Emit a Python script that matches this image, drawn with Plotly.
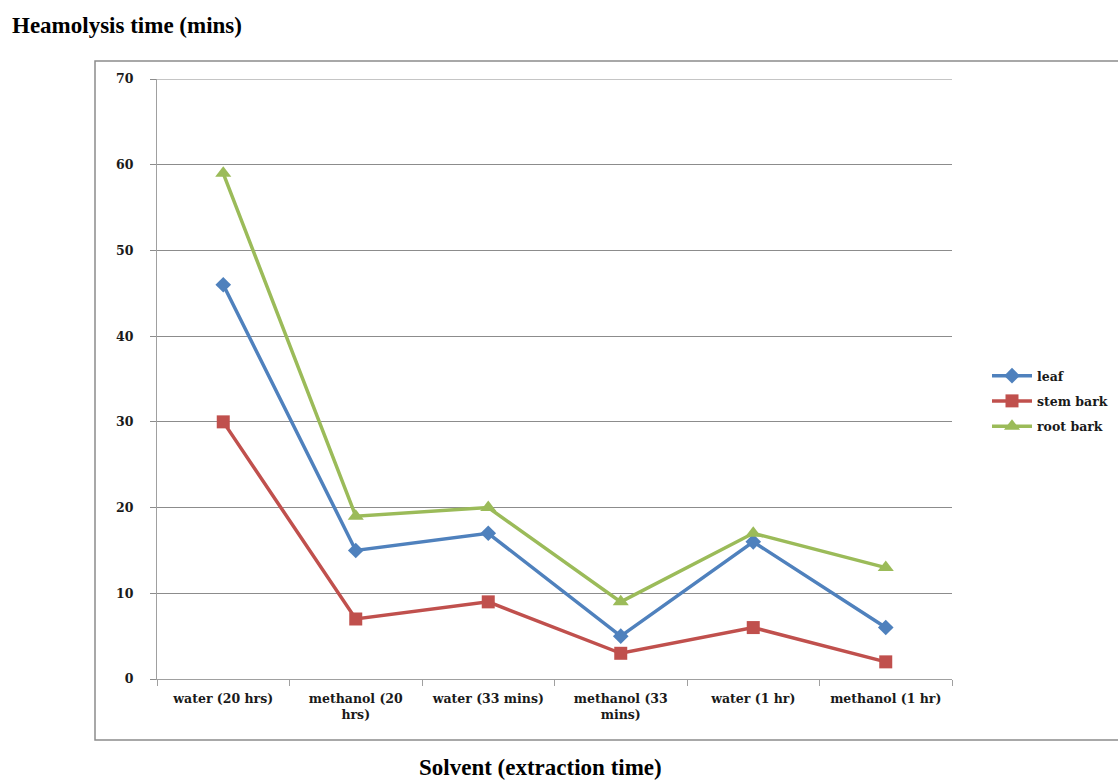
import plotly.graph_objects as go

categories = ["water (20 hrs)", "methanol (20<br>hrs)", "water (33 mins)",
              "methanol (33<br>mins)", "water (1 hr)", "methanol (1 hr)"]
leaf = [46, 15, 17, 5, 16, 6]
stem_bark = [30, 7, 9, 3, 6, 2]
root_bark = [59, 19, 20, 9, 17, 13]
y_ticks = [0, 10, 20, 30, 40, 50, 60, 70]

W, H = 1118, 781
L, R, T, B = 157, 952, 79, 679
pw, ph = R - L, B - T

def px(x):
    return (x - L) / pw

def py(y):
    return (B - y) / ph

font_tick = dict(family="DejaVu Serif", size=12.5, color="#1a1a1a", weight="bold")

fig = go.Figure()
series = [
    ("leaf", leaf, "#4F81BD", "diamond", 12),
    ("stem bark", stem_bark, "#C0504D", "square", 13),
    ("root bark", root_bark, "#9BBB59", "triangle-up", 14),
]
for name, vals, col, sym, sz in series:
    fig.add_trace(go.Scatter(
        x=categories, y=vals, name=name, mode="lines+markers",
        legendgroup=name,
        line=dict(color=col, width=3.5),
        marker=dict(symbol=sym, size=sz, color=col),
    ))

fig.update_layout(
    width=W, height=H,
    margin=dict(l=L, r=W - R, t=T, b=H - B, pad=0, autoexpand=False),
    paper_bgcolor="white", plot_bgcolor="white",
    showlegend=True,
    legend=dict(x=px(987), y=py(401), xanchor="left", yanchor="middle",
                font=dict(family="DejaVu Serif", size=12.5, color="#1a1a1a", weight="bold"),
                bgcolor="rgba(0,0,0,0)", tracegroupgap=6, itemwidth=40),
    xaxis=dict(
        type="category", showgrid=False, tickson="boundaries",
        ticks="outside", ticklen=6, tickcolor="#a0a0a0",
        showline=True, linecolor="#a0a0a0", linewidth=1,
        tickfont=font_tick, range=[-0.5, 5.5], fixedrange=True,
        ticklabelstandoff=8, automargin=False,
    ),
    yaxis=dict(
        range=[0, 70], tickvals=y_ticks, showgrid=True, gridcolor="#8c8c8c",
        gridwidth=1, ticks="outside", ticklen=6, tickcolor="#8c8c8c",
        showline=True, linecolor="#a0a0a0", linewidth=1,
        tickfont=font_tick, zeroline=False, ticklabelstandoff=14, automargin=False,
    ),
    shapes=[
        dict(type="rect", xref="paper", yref="paper",
             x0=px(95), x1=px(1125), y0=py(740), y1=py(61),
             line=dict(color="#8c8c8c", width=1.5), fillcolor="rgba(0,0,0,0)",
             layer="below"),
        dict(type="line", xref="paper", yref="y", x0=0, x1=1, y0=70, y1=70,
             line=dict(color="#8c8c8c", width=1), layer="below"),
    ],
    annotations=[
        dict(text="<b>Heamolysis time (mins)</b>", xref="paper", yref="paper",
             x=px(10), y=py(26), xanchor="left", yanchor="middle", showarrow=False,
             font=dict(family="Liberation Serif", size=23, color="black")),
        dict(text="<b>Solvent (extraction time)</b>", xref="paper", yref="paper",
             x=px(540), y=py(767), xanchor="center", yanchor="middle", showarrow=False,
             font=dict(family="Liberation Serif", size=23, color="black")),
    ],
)

fig.write_html("out.html", config={"displayModeBar": False},
               post_script="document.body.style.margin='0';document.body.style.overflow='hidden';")
